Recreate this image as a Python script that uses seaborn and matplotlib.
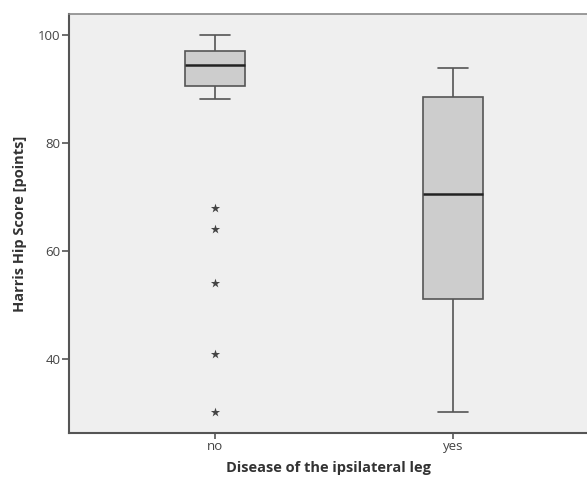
#!/usr/bin/env python

# ===================== LIBRARIES =====================

import matplotlib.pylab as plt
import seaborn as sns
import pandas as pd

# ===================== DATA =====================

groups = ["no", "yes"]

# Five-number summaries:
# lower whisker, Q1, median, Q3, upper whisker
no_summary = [88.1, 90.6, 94.4, 97.0, 100.0]
yes_summary = [30.2, 51.1, 70.6, 88.5, 93.9]

# Extreme values (stars)
no_extremes = [68.0, 64.0, 54.0, 41.0, 30.2]
yes_extremes = []

y_ticks = [40, 60, 80, 100]

x_label = "Disease of the ipsilateral leg"
y_label = "Harris Hip Score [points]"

# ===================== MAIN =====================

def main():

    sns.set_style("white")
    plt.rcParams["font.family"] = ["Open Sans", "DejaVu Sans"]

    summary_df = pd.DataFrame({
        "group": ["no"] * len(no_summary) + ["yes"] * len(yes_summary),
        "score": no_summary + yes_summary,
    })
    extremes_df = pd.DataFrame({
        "group": ["no"] * len(no_extremes) + ["yes"] * len(yes_extremes),
        "score": no_extremes + yes_extremes,
    })

    fig = plt.figure(figsize=(5.87, 4.83), dpi=100)
    ax = fig.add_axes([69 / 587, 50 / 483, 1 - 69 / 587, 419 / 483])
    ax.set_facecolor("#efefef")

    # ===================== BOXES =====================

    sns.boxplot(
        data=summary_df,
        x="group",
        y="score",
        order=groups,
        whis=(0, 100),
        showfliers=False,
        width=0.25,
        color="#cdcdcd",
        saturation=1,
        linecolor="#555555",
        linewidth=1.2,
        medianprops={"color": "#222222", "linewidth": 1.8},
        ax=ax,
    )

    # ===================== EXTREMES =====================

    sns.stripplot(
        data=extremes_df,
        x="group",
        y="score",
        order=groups,
        jitter=False,
        marker="*",
        size=7,
        color="#444444",
        linewidth=0,
        ax=ax,
    )

    # ===================== AXES =====================

    ax.set_xlim(-0.613, 1.563)
    ax.set_ylim(26.3, 103.9)
    ax.set_yticks(y_ticks)

    for side in ["left", "bottom"]:
        ax.spines[side].set_color("#555555")
        ax.spines[side].set_linewidth(1.5)
    ax.spines["top"].set_color("#8a8a8a")
    ax.spines["top"].set_linewidth(1.2)
    ax.spines["right"].set_visible(False)

    ax.tick_params(
        axis="y", left=True, direction="out", length=5, width=1.2,
        color="#555555", labelcolor="#444444", labelsize=9.5, pad=1
    )
    ax.tick_params(
        axis="x", bottom=True, direction="out", length=4, width=1.2,
        color="#555555", labelcolor="#444444", labelsize=9.5, pad=1
    )

    ax.set_xlabel(x_label, fontsize=10.5, fontweight="bold", color="#333333", labelpad=6)
    ax.set_ylabel(y_label, fontsize=10.5, fontweight="bold", color="#333333", labelpad=8)

    plt.savefig("out.png", dpi=100)

    return

if __name__ == "__main__":
    main()
